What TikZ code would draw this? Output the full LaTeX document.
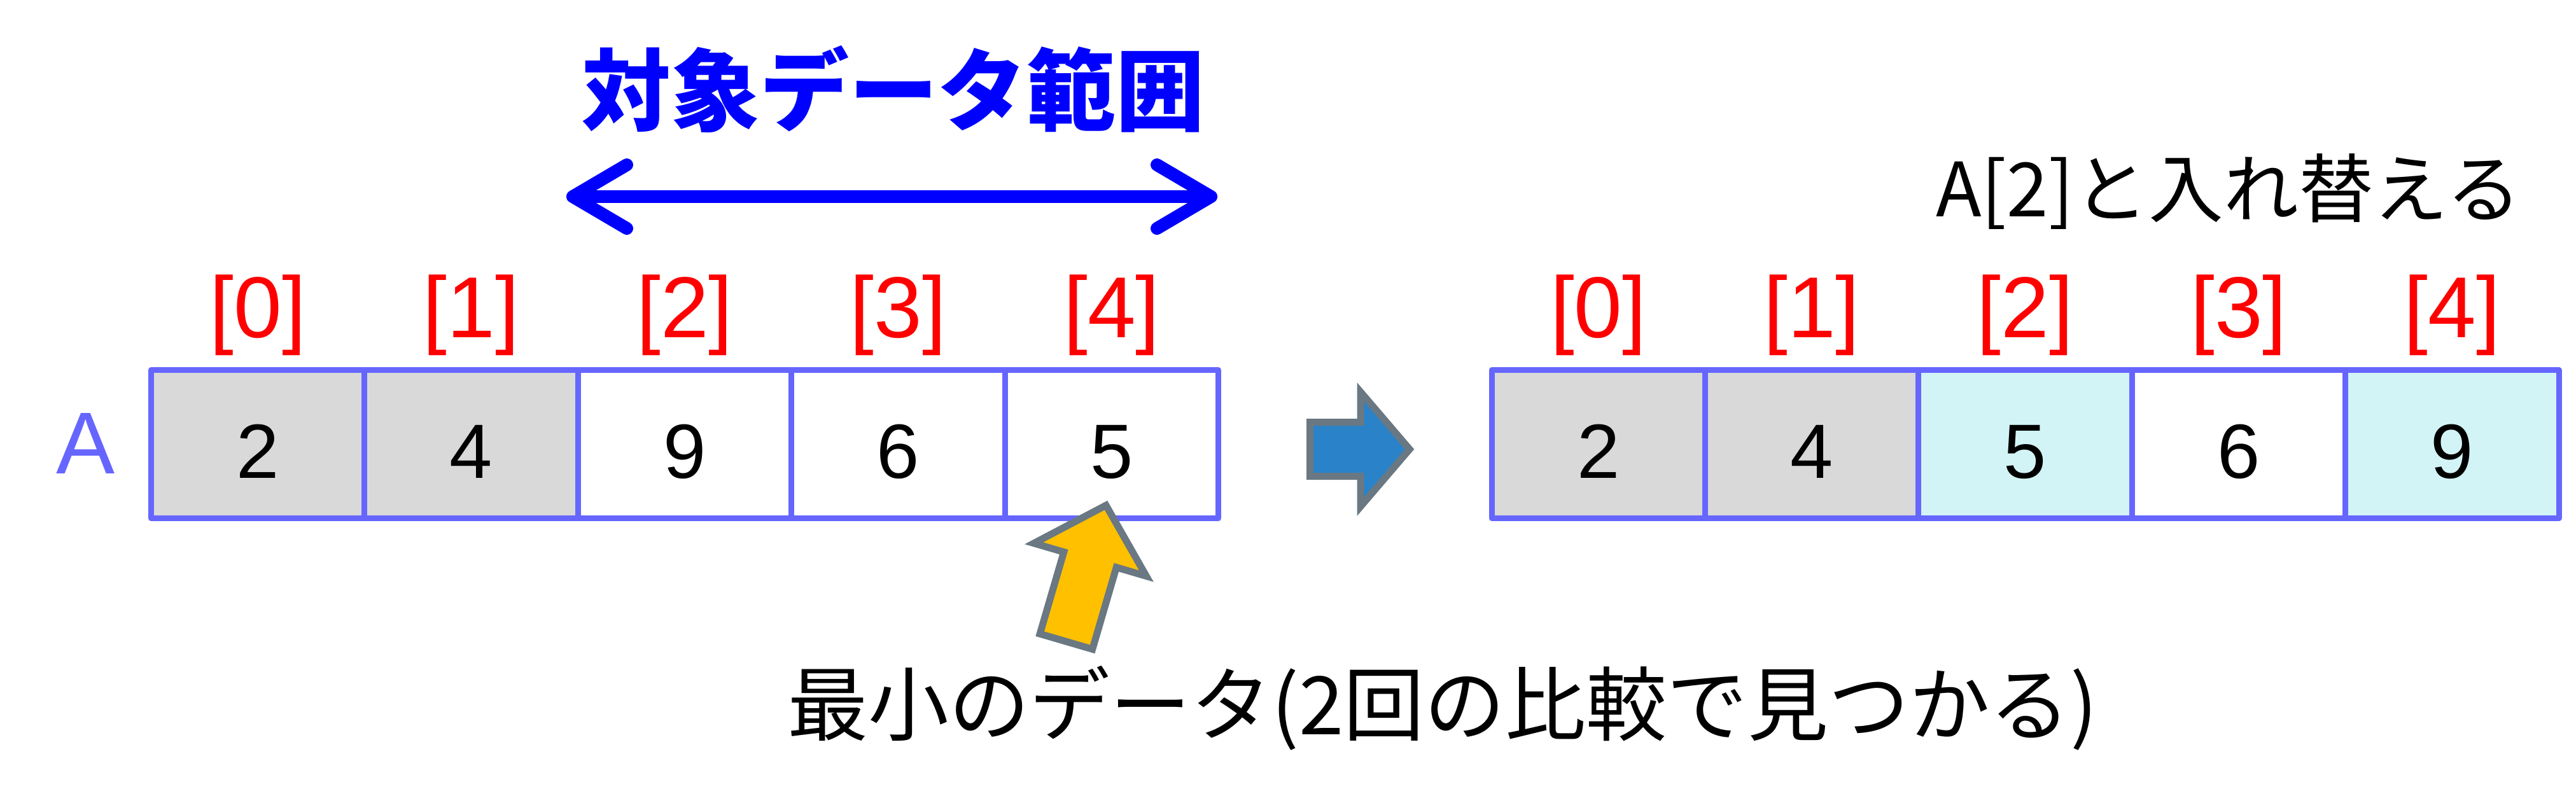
\documentclass[tikz,border=0pt]{standalone}
\usepackage{fontspec}
\setmainfont{Liberation Sans}
\newfontfamily\jpfont{Noto Sans CJK JP}
\usepackage{tikz}
\usetikzlibrary{arrows.meta}
\definecolor{boxblue}{RGB}{102,102,255}
\definecolor{cellgray}{RGB}{217,217,217}
\definecolor{cellcyan}{RGB}{210,244,246}
\definecolor{idxred}{RGB}{255,0,0}
\definecolor{titleblue}{RGB}{0,0,255}
\definecolor{edgegray}{RGB}{105,120,130}
\definecolor{ptyellow}{RGB}{255,192,0}
\definecolor{stepblue}{RGB}{42,131,200}
\tikzset{cell/.style={draw=boxblue, line width=0.09cm, line join=round, minimum width=3.354cm, minimum height=2.33cm, inner sep=0pt, text height=1.07cm, text depth=0pt, font=\fontsize{34.4}{34.4}\selectfont}}
\tikzset{done/.style={cell, fill=cellgray}}
\tikzset{swapped/.style={cell, fill=cellcyan}}
\tikzset{idx/.style={text=idxred, font=\fontsize{38.7}{38.7}\selectfont}}
\tikzset{jp/.style={font={\fontsize{36.1}{36.1}\jpfont}}}

\begin{document}
\begin{tikzpicture}
  \useasboundingbox (0,0) rectangle (40.48,-12.61);
  % target range
  \node[text=titleblue, font={\fontsize{39.8}{39.8}\jpfont\bfseries}] (range) at (14.04,-1.40) {対象データ範囲};
  \coordinate (rangeL) at (8.90,-3.09);
  \coordinate (rangeR) at (19.13,-3.09);
  \draw[titleblue, line width=0.2cm, {Straight Barb[length=0.85cm, width=1.0cm, round]}-{Straight Barb[length=0.85cm, width=1.0cm, round]}] (rangeL) -- (rangeR);
  % before
  \node[text=boxblue, font=\fontsize{39.3}{39.3}\selectfont] (A) at (1.35,-6.97) {A};
  \node[idx] (i0) at (4.052,-4.95) {[0]};
  \node[idx] (i1) at (7.406,-4.95) {[1]};
  \node[idx] (i2) at (10.760,-4.95) {[2]};
  \node[idx] (i3) at (14.114,-4.95) {[3]};
  \node[idx] (i4) at (17.468,-4.95) {[4]};
  \node[done] (a0) at (4.052,-6.98) {2};
  \node[done] (a1) at (7.406,-6.98) {4};
  \node[cell] (a2) at (10.760,-6.98) {9};
  \node[cell] (a3) at (14.114,-6.98) {6};
  \node[cell] (a4) at (17.468,-6.98) {5};
  % smallest one
  \draw[edgegray, fill=ptyellow, line width=0.11cm, shift={(16.74,-10.13)}, rotate=73.7]
    (0.05,-0.43) -- (1.39,-0.43) -- (1.39,-0.92) -- (2.28,0) -- (1.39,0.92) -- (1.39,0.43) -- (0.05,0.43) -- cycle;
  \node[jp] (minlabel) at (22.67,-11.13) {最小のデータ(2回の比較で見つかる)};
  % step
  \draw[edgegray, fill=stepblue, line width=0.11cm]
    (20.585,-6.635) -- (21.38,-6.635) -- (21.38,-6.16) -- (22.15,-7.06) -- (21.38,-7.96) -- (21.38,-7.485) -- (20.585,-7.485) -- cycle;
  % after
  \node[font={\fontsize{33.5}{33.5}\jpfont}] (swaplabel) at (35.02,-3.01) {A[2]と入れ替える};
  \node[idx] (j0) at (25.117,-4.95) {[0]};
  \node[idx] (j1) at (28.471,-4.95) {[1]};
  \node[idx] (j2) at (31.825,-4.95) {[2]};
  \node[idx] (j3) at (35.179,-4.95) {[3]};
  \node[idx] (j4) at (38.533,-4.95) {[4]};
  \node[done] (b0) at (25.117,-6.98) {2};
  \node[done] (b1) at (28.471,-6.98) {4};
  \node[swapped] (b2) at (31.825,-6.98) {5};
  \node[cell] (b3) at (35.179,-6.98) {6};
  \node[swapped] (b4) at (38.533,-6.98) {9};
\end{tikzpicture}
\end{document}
